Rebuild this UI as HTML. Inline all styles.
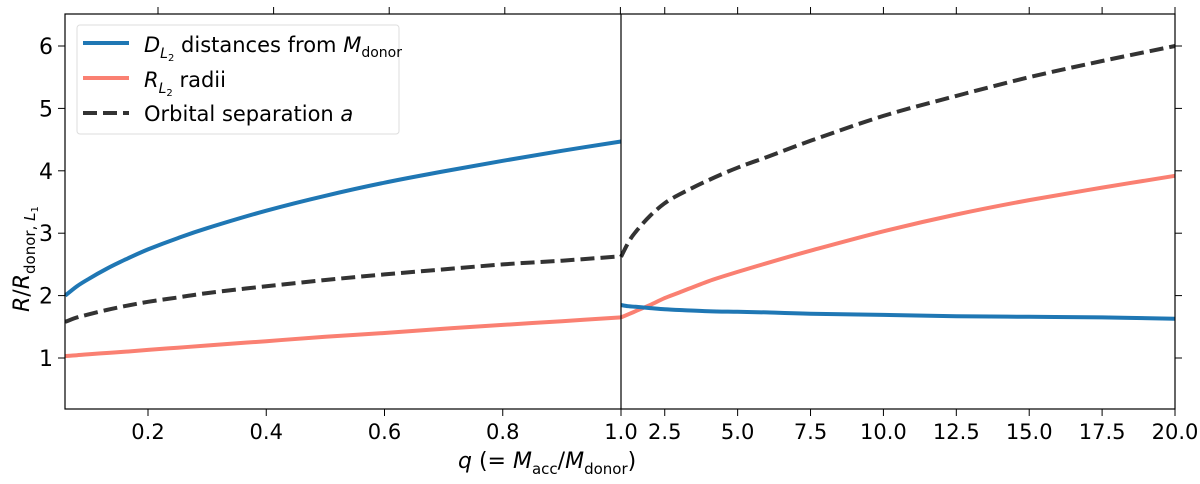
<!DOCTYPE html>
<html><head><meta charset="utf-8"><style>
body{margin:0;background:#fff;}
svg text{font-family:"DejaVu Sans","Liberation Sans",sans-serif;fill:#000;}
</style></head><body>
<svg id="chart" width="1200" height="479" xmlns="http://www.w3.org/2000/svg">
<g id="marks"></g>
<g id="axes"></g>
<g>
<rect x="77" y="25" width="322" height="109" rx="3" fill="#fff" stroke="#ddd" stroke-width="1"/>
<line x1="83" y1="43" x2="129" y2="43" stroke="#1f77b4" stroke-width="4"/>
<text x="144" y="52" font-size="21"><tspan font-style="italic">D</tspan><tspan font-size="14" dy="6" font-style="italic">L</tspan><tspan font-size="10" dy="3">2</tspan><tspan dy="-9"> distances from </tspan><tspan font-style="italic">M</tspan><tspan font-size="14" dy="5">donor</tspan></text>
<line x1="83" y1="78" x2="129" y2="78" stroke="#fa8072" stroke-width="4"/>
<text x="144" y="87" font-size="21"><tspan font-style="italic">R</tspan><tspan font-size="14" dy="6" font-style="italic">L</tspan><tspan font-size="10" dy="3">2</tspan><tspan dy="-9"> radii</tspan></text>
<line x1="83" y1="113" x2="129" y2="113" stroke="#333" stroke-width="4" stroke-dasharray="14,6"/>
<text x="144" y="121" font-size="21">Orbital separation <tspan font-style="italic">a</tspan></text>
</g>
<text x="0" y="0" font-size="22" transform="translate(29,312) rotate(-90)"><tspan font-style="italic">R</tspan>/<tspan font-style="italic">R</tspan><tspan font-size="15" dy="6">donor, </tspan><tspan font-size="15" font-style="italic">L</tspan><tspan font-size="10" dy="3">1</tspan></text>
<text x="458" y="468" font-size="22"><tspan font-style="italic">q</tspan> (= <tspan font-style="italic">M</tspan><tspan font-size="15" dy="6">acc</tspan><tspan dy="-6">/</tspan><tspan font-style="italic">M</tspan><tspan font-size="15" dy="6">donor</tspan><tspan dy="-6">)</tspan></text>
</svg>
<script>
const qLeft=[0.06,0.08,0.1,0.13,0.16,0.2,0.25,0.3,0.4,0.5,0.6,0.7,0.8,0.9,1.0];
const dL2Left=[2.0,2.15,2.27,2.43,2.57,2.74,2.92,3.08,3.36,3.6,3.81,3.99,4.16,4.32,4.47];
const sepLeft=[1.58,1.65,1.7,1.77,1.83,1.9,1.97,2.04,2.15,2.25,2.34,2.42,2.5,2.56,2.63];
const rL2Left=[1.03,1.045,1.06,1.08,1.1,1.13,1.165,1.2,1.27,1.34,1.4,1.47,1.53,1.59,1.65];
const qRight=[1.0,1.25,1.5,2.0,2.5,3.0,4.0,5,6,7.5,10,12.5,15,17.5,20];
const dL2Right=[1.85,1.83,1.82,1.8,1.78,1.77,1.75,1.74,1.73,1.71,1.69,1.67,1.66,1.65,1.63];
const sepRight=[2.62,2.85,3.02,3.28,3.48,3.62,3.85,4.05,4.22,4.48,4.88,5.2,5.5,5.76,6.0];
const rL2Right=[1.65,1.7,1.75,1.85,1.96,2.05,2.23,2.38,2.52,2.72,3.03,3.3,3.53,3.73,3.92];
const yTicks=[1,2,3,4,5,6];
const xTicksLeft=[0.2,0.4,0.6,0.8,1.0];
const xTicksRight=[2.5,5.0,7.5,10.0,12.5,15.0,17.5,20.0];
const NS="http://www.w3.org/2000/svg";
const T=14,B=409,L=65,M=621,R=1175;
const yS=v=>358-(v-1)*62.4;
const xL=q=>148+(q-0.2)*591.25;
const xR=q=>621+(q-1)*(554/19);
const marks=document.getElementById('marks'),axes=document.getElementById('axes');
function mk(tag,at,parent){const e=document.createElementNS(NS,tag);for(const k in at)e.setAttribute(k,at[k]);parent.appendChild(e);return e;}
function path(xs,ys,fx,color,dash,name){
  const P=xs.map((x,i)=>[fx(x),yS(ys[i])]);
  let d='M'+P[0][0].toFixed(1)+','+P[0][1].toFixed(1);
  for(let i=0;i<P.length-1;i++){
    const p0=P[Math.max(i-1,0)],p1=P[i],p2=P[i+1],p3=P[Math.min(i+2,P.length-1)];
    const c1=[p1[0]+(p2[0]-p0[0])/6,p1[1]+(p2[1]-p0[1])/6];
    const c2=[p2[0]-(p3[0]-p1[0])/6,p2[1]-(p3[1]-p1[1])/6];
    d+='C'+c1.map(v=>v.toFixed(1))+' '+c2.map(v=>v.toFixed(1))+' '+p2.map(v=>v.toFixed(1));
  }
  const p=mk('path',{d:d,fill:'none',stroke:color,'stroke-width':4,'stroke-linejoin':'round'},marks);
  if(dash)p.setAttribute('stroke-dasharray','14,6');
  
  
}
path(qLeft,sepLeft,xL,'#333',true,'separation-line-left');
path(qLeft,rL2Left,xL,'#fa8072',false,'rl2-line-left');
path(qLeft,dL2Left,xL,'#1f77b4',false,'dl2-line-left');
path(qRight,sepRight,xR,'#333',true,'separation-line-right');
path(qRight,rL2Right,xR,'#fa8072',false,'rl2-line-right');
path(qRight,dL2Right,xR,'#1f77b4',false,'dl2-line-right');
const fr=mk('rect',{x:L,y:T,width:R-L,height:B-T,fill:'none',stroke:'#000','stroke-width':1.2},axes);


mk('line',{x1:M,y1:T,x2:M,y2:B,stroke:'#000','stroke-width':1.2},axes);
yTicks.forEach(v=>{
  const y=yS(v);
  mk('line',{x1:L-7,y1:y,x2:L,y2:y,stroke:'#000','stroke-width':1},axes);
  mk('line',{x1:R,y1:y,x2:R+7,y2:y,stroke:'#000','stroke-width':1},axes);
  const t=mk('text',{x:L-12,y:y+8,'font-size':22,'text-anchor':'end'},axes);t.textContent=v;
  
  
});
xTicksLeft.forEach(v=>{
  const x=xL(v);
  mk('line',{x1:x,y1:B,x2:x,y2:B+7,stroke:'#000','stroke-width':1},axes);
  const t=mk('text',{x:x,y:B+30,'font-size':21,'text-anchor':'middle'},axes);t.textContent=v.toFixed(1);
  
  
});
for(let x=158;x<=621;x+=115.6){mk('line',{x1:x,y1:T-7,x2:x,y2:T,stroke:'#000','stroke-width':1},axes);}
xTicksRight.forEach(v=>{
  const x=xR(v);
  mk('line',{x1:x,y1:B,x2:x,y2:B+7,stroke:'#000','stroke-width':1},axes);
  mk('line',{x1:x,y1:T-7,x2:x,y2:T,stroke:'#000','stroke-width':1},axes);
  const t=mk('text',{x:x,y:B+30,'font-size':21,'text-anchor':'middle'},axes);t.textContent=v.toFixed(1);
  
  
});
</script>
</body></html>
